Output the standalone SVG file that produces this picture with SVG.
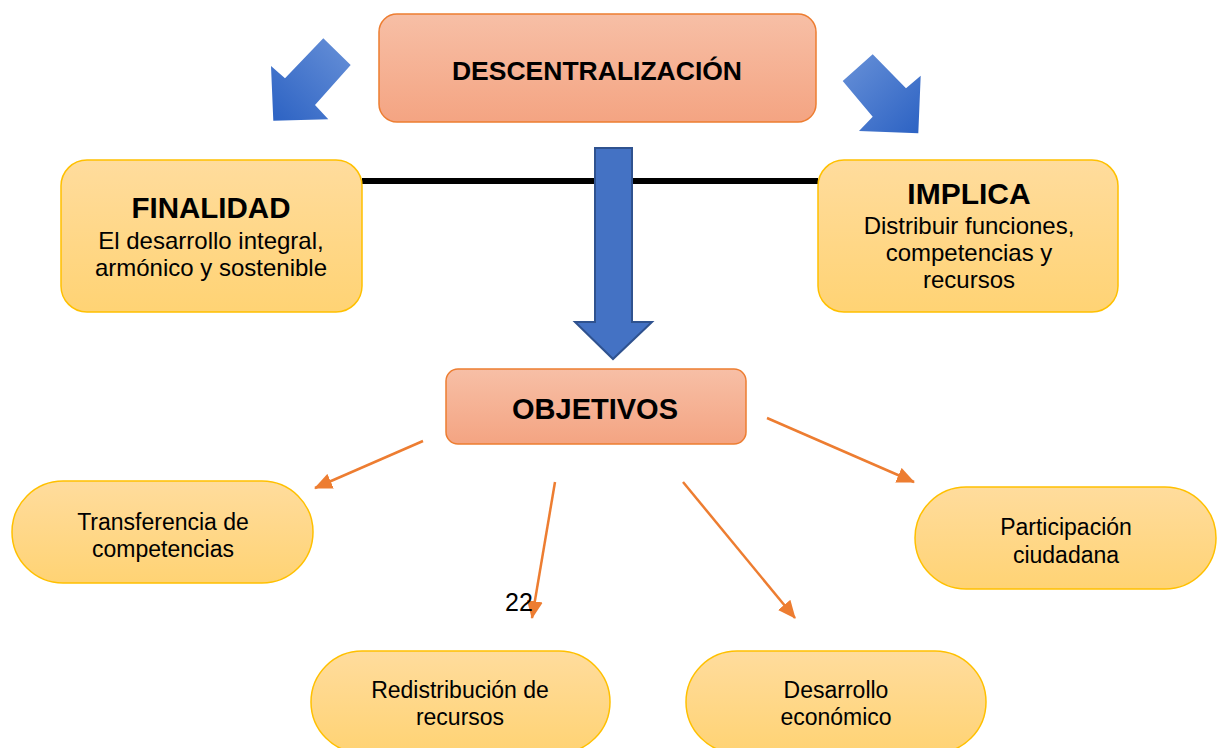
<svg xmlns="http://www.w3.org/2000/svg" width="1224" height="748" viewBox="0 0 1224 748">
<defs>
<linearGradient id="gOr" x1="0" y1="0" x2="0" y2="1"><stop offset="0" stop-color="#F7BFA6"/><stop offset="1" stop-color="#F4A482"/></linearGradient>
<linearGradient id="gYe" x1="0" y1="0" x2="0" y2="1"><stop offset="0" stop-color="#FFDC9D"/><stop offset="1" stop-color="#FFD374"/></linearGradient>
<linearGradient id="gBlL" x1="1" y1="0" x2="0" y2="1"><stop offset="0" stop-color="#6891D8"/><stop offset="1" stop-color="#2C62C3"/></linearGradient>
<linearGradient id="gBlR" x1="0" y1="0" x2="1" y2="1"><stop offset="0" stop-color="#6891D8"/><stop offset="1" stop-color="#2C62C3"/></linearGradient>
<marker id="ah" markerUnits="userSpaceOnUse" markerWidth="18" markerHeight="16" viewBox="0 0 18 16" refX="17" refY="8" orient="auto"><path d="M0,0 L18,8 L0,16 Z" fill="#ED7D31"/></marker>
</defs>
<style>
.or{fill:url(#gOr);stroke:#ED7D31;stroke-width:1.5}
.ye{fill:url(#gYe);stroke:#FFC000;stroke-width:1.5}
.t{font-family:"Liberation Sans",Arial,sans-serif;fill:#000;text-anchor:middle}
.b{font-weight:bold}
.r{font-size:23px}
.r2{font-size:24px}
.con{stroke:#ED7D31;stroke-width:2.5;fill:none;marker-end:url(#ah)}
</style>
<rect width="1224" height="748" fill="#fff"/>
<g id="connectors">
<line x1="362" y1="181" x2="818" y2="181" stroke="#000" stroke-width="6"/>
<polygon points="323.3,38.3 350.7,65 315,105 328.3,119.3 273.3,120.7 271,66 285,78.3" fill="url(#gBlL)"/>
<polygon points="872.7,54.3 842.7,81 872.7,116.7 859,131 918.3,133.3 920.7,75.7 906,88.3" fill="url(#gBlR)"/>
<polygon points="595,148 632,148 632,322 652,322 613,359 575,322 595,322" fill="#4472C4" stroke="#2F528F" stroke-width="2"/>
<line class="con" x1="423" y1="441" x2="315" y2="488"/>
<line class="con" x1="555" y1="482" x2="532" y2="618"/>
<line class="con" x1="683" y1="482" x2="795" y2="618"/>
<line class="con" x1="767" y1="418" x2="914" y2="482"/>
</g>
<g id="descentralizacion">
<rect class="or" x="379" y="14" width="437" height="108" rx="18"/>
<text class="t b" x="597" y="80" font-size="26.5">DESCENTRALIZACIÓN</text>
</g>
<g id="finalidad">
<rect class="ye" x="61" y="160" width="301" height="152" rx="26"/>
<text class="t b" x="211" y="218" font-size="29.5">FINALIDAD</text>
<text class="t r2" x="211" y="249">El desarrollo integral,</text>
<text class="t r2" x="211" y="276">armónico y sostenible</text>
</g>
<g id="implica">
<rect class="ye" x="818" y="160" width="300" height="152" rx="26"/>
<text class="t b" x="969" y="204" font-size="30">IMPLICA</text>
<text class="t r2" x="969" y="234">Distribuir funciones,</text>
<text class="t r2" x="969" y="261">competencias y</text>
<text class="t r2" x="969" y="288">recursos</text>
</g>
<g id="objetivos">
<rect class="or" x="446" y="369" width="300" height="75" rx="12"/>
<text class="t b" x="595" y="419" font-size="29">OBJETIVOS</text>
</g>
<g id="transferencia">
<rect class="ye" x="12" y="481" width="301" height="102" rx="51"/>
<text class="t r" x="163" y="530">Transferencia de</text>
<text class="t r" x="163" y="557">competencias</text>
</g>
<g id="participacion">
<rect class="ye" x="915" y="487" width="301" height="102" rx="51"/>
<text class="t r" x="1066" y="535">Participación</text>
<text class="t r" x="1066" y="563">ciudadana</text>
</g>
<g id="redistribucion">
<rect class="ye" x="311" y="651" width="299" height="102" rx="51"/>
<text class="t r" x="460" y="698">Redistribución de</text>
<text class="t r" x="460" y="725">recursos</text>
</g>
<g id="desarrollo">
<rect class="ye" x="686" y="651" width="300" height="102" rx="51"/>
<text class="t r" x="836" y="698">Desarrollo</text>
<text class="t r" x="836" y="725">económico</text>
</g>
<text x="505" y="611" font-family="Liberation Sans, Arial, sans-serif" font-size="25" fill="#000">22</text>
</svg>
